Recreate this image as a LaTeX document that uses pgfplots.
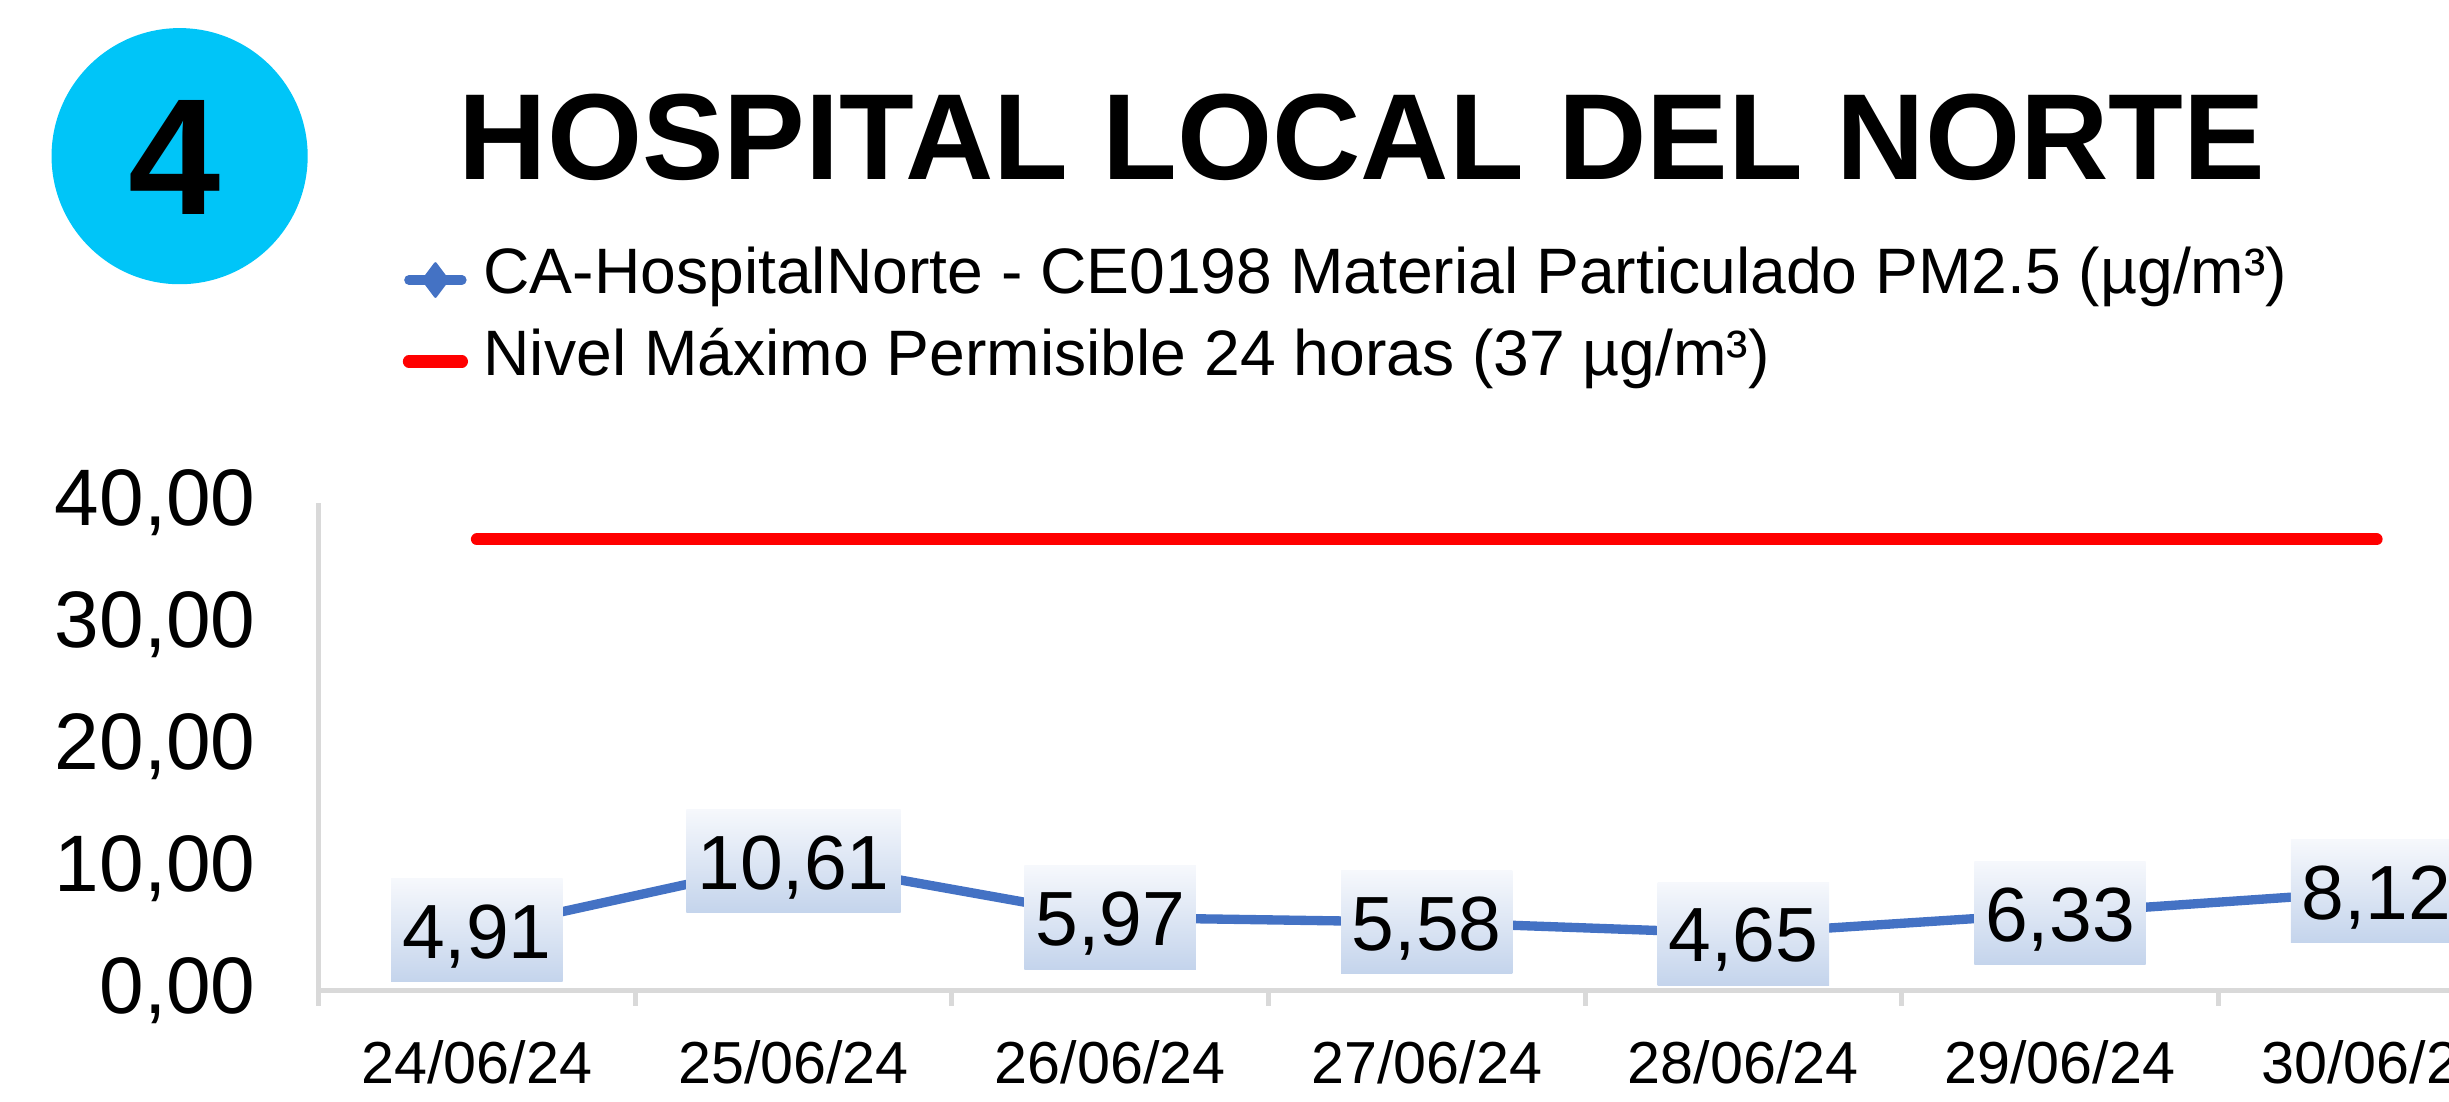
\documentclass[border=0pt]{standalone}
\usepackage{pgfplots}
\pgfplotsset{compat=1.18}
\usepackage{fontspec}
\setmainfont{Liberation Sans}
\definecolor{cblue}{RGB}{68,114,196}
\definecolor{cred}{RGB}{255,0,0}
\definecolor{ccyan}{RGB}{0,197,248}
\definecolor{axgray}{RGB}{217,217,217}
\definecolor{lbltop}{RGB}{246,248,252}
\definecolor{lblbot}{RGB}{196,212,236}
\begin{document}
\begin{tikzpicture}
\begin{scope}
\clip (0,0) rectangle (15.68,7.05);
\fill[ccyan] (1.15,6.05) circle (0.82);
\node[font=\fontsize{30.2}{32}\selectfont\bfseries] at (1.12,6.04) {4};
\node[anchor=base west, font=\fontsize{22.3}{26}\selectfont\bfseries, inner sep=0pt] at (2.93,5.90) {HOSPITAL LOCAL DEL NORTE};
\begin{axis}[
  at={(2.04cm,0.71cm)}, anchor=south west,
  scale only axis, width=14.19cm, height=3.12cm,
  xmin=-0.5, xmax=6.5, ymin=0, ymax=40,
  clip=false,
  axis lines=left, axis line style={-, draw=axgray, line width=0.9pt},
  xtick={0,...,6},
  xticklabels={24/06/24,25/06/24,26/06/24,27/06/24,28/06/24,29/06/24,30/06/24},
  minor xtick={-0.5,0.5,...,6.5},
  ytick={0,10,...,40},
  major tick length=0pt, minor tick length=0.1cm,
  tick align=outside,
  minor tick style={draw=axgray, line width=0.9pt},
  major tick style={draw=none},
  /pgf/number format/fixed,
  /pgf/number format/fixed zerofill,
  /pgf/number format/precision=2,
  /pgf/number format/use comma,
  /pgf/number format/1000 sep={},
  /pgf/number format/assume math mode=true,
  yticklabel style={font=\fontsize{14.6}{16}\selectfont, xshift=-0.28cm},
  xticklabel style={font=\fontsize{10.8}{12}\selectfont, yshift=-0.2cm},
  legend style={draw=none, fill=none, at={(axis description cs:0.038,1.525)}, anchor=north west,
    inner sep=0pt, outer sep=0pt, font=\fontsize{11.7}{14}\selectfont, row sep=0.1cm,
    nodes={inner xsep=0pt, inner ysep=1pt, text height=0.75em, text depth=0.25em},
    /tikz/every odd column/.append style={column sep=0.1cm}},
  legend cell align=left,
  legend image code/.code={\draw[mark repeat=2,mark phase=2,#1] plot coordinates {(0.02cm,0cm)(0.19cm,0cm)(0.36cm,0cm)};},
]
\addplot[cblue, line width=1.7pt, line cap=round, line join=round, mark=diamond*, mark size=3pt,
  mark options={solid, fill=cblue, line width=0.5pt},
  nodes near coords,
  nodes near coords style={anchor=center, text=black, font=\fontsize{14}{16}\selectfont,
    top color=lbltop, bottom color=lblbot, inner xsep=0.07cm, inner ysep=0pt,
    minimum height=0.66cm, text height=0.36cm, text depth=0pt}]
  coordinates {(0,4.91)(1,10.61)(2,5.97)(3,5.58)(4,4.65)(5,6.33)(6,8.12)};
\addlegendentry{CA-HospitalNorte - CE0198 Material Particulado PM2.5 (µg/m³)}
\addplot[cred, line width=2.2pt, line cap=round]
  coordinates {(0,37)(1,37)(2,37)(3,37)(4,37)(5,37)(6,37)};
\addlegendentry{Nivel Máximo Permisible 24 horas (37 µg/m³)}
\end{axis}
\end{scope}
\pgfresetboundingbox
\useasboundingbox (0,0) rectangle (15.68,7.05);
\end{tikzpicture}
\end{document}
